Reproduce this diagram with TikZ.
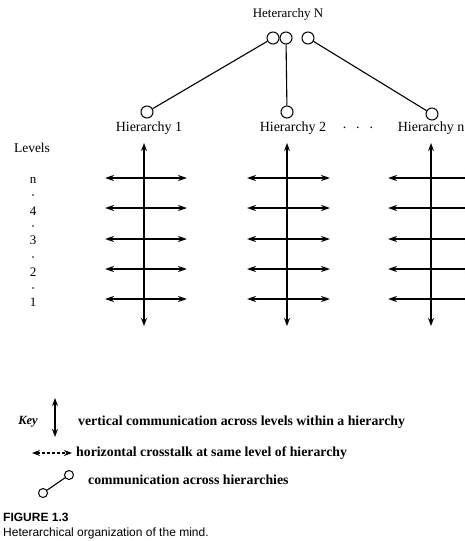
\documentclass[tikz,border=0pt]{standalone}
\usepackage{fontspec}
\setmainfont{Liberation Serif}
\setsansfont{Liberation Sans}
\usetikzlibrary{arrows.meta}
\tikzset{
  hc/.style={circle, draw, line width=1pt, minimum size=12pt, inner sep=0pt},
  kc/.style={circle, draw, line width=1pt, minimum size=9pt, inner sep=0pt},
  link/.style={line width=1.1pt},
  varrow/.style={line width=1.4pt, {Stealth[length=8pt,width=6pt]}-{Stealth[length=8pt,width=6pt]}},
  harrow/.style={line width=1.5pt, {Stealth[length=9pt,width=6pt]}-{Stealth[length=9pt,width=6pt]}},
  karrow/.style={line width=1.3pt, dashed, dash pattern=on 3pt off 2pt, {Stealth[length=8pt,width=6pt]}-{Stealth[length=8pt,width=6pt]}},
  lab/.style={font=\fontsize{13}{15}\selectfont, inner sep=0pt},
  hlab/.style={font=\fontsize{14}{16}\selectfont, inner sep=0pt},
  ldot/.style={circle, fill, inner sep=0pt, minimum size=1.8pt},
  keytxt/.style={font=\fontsize{13.8}{15}\selectfont\bfseries, inner sep=0pt, anchor=west},
}
\begin{document}
\begin{tikzpicture}[x=1pt,y=-1pt]
\useasboundingbox (0,0) rectangle (465,541);

% top
\node[lab] (hetN) at (288,14) {Heterarchy N};
\node[hc] (t1) at (273,38) {};
\node[hc] (t2) at (286,38) {};
\node[hc] (t3) at (308,38) {};
\node[hc] (c1) at (147,112) {};
\node[hc] (c2) at (287,112) {};
\node[hc] (cn) at (432,114) {};
\draw[link] (t1) -- (c1);
\draw[link] (t2) -- (c2);
\draw[link] (t3) -- (cn);

\node[hlab] (h1) at (149,128) {Hierarchy 1};
\node[hlab] (h2) at (293,128) {Hierarchy 2};
\node[hlab] (hd) at (358,128) {.\hspace{10pt}.\hspace{10pt}.};
\node[hlab, anchor=east] (hn) at (464.5,128) {Hierarchy n};

% levels
\node[lab, font=\fontsize{13.5}{15}\selectfont] (lev) at (32,148) {Levels};
\node[lab] (ln) at (33,180) {n};
\node[ldot] (d4) at (33,195) {};
\node[lab] (l4) at (33,211) {4};
\node[ldot] (d3) at (33,226) {};
\node[lab] (l3) at (33,240) {3};
\node[ldot] (d2) at (33,257) {};
\node[lab] (l2) at (33,272) {2};
\node[ldot] (d1) at (33,288) {};
\node[lab] (l1) at (33,302) {1};

% hierarchies
\foreach \h/\cx/\lx/\rx in {1/144/105/187, 2/287/247/330, n/431/388/474}{
  \coordinate (vt\h) at (\cx,143);
  \coordinate (vb\h) at (\cx,326);
  \draw[varrow] (vt\h) -- (vb\h);
  \foreach \l/\y in {n/178, 4/208, 3/239, 2/269, 1/299}{
    \coordinate (hl\h\l) at (\lx,\y);
    \coordinate (hr\h\l) at (\rx,\y);
    \draw[harrow] (hl\h\l) -- (hr\h\l);
  }
}

% key
\node[lab, font=\fontsize{12.5}{14}\selectfont\bfseries\itshape] (key) at (28,422) {Key};
\coordinate (kvt) at (55,398);
\coordinate (kvb) at (55,437);
\draw[varrow] (kvt) -- (kvb);
\node[keytxt] (k1) at (78,422) {vertical communication across levels within a hierarchy};
\coordinate (khl) at (32,453);
\coordinate (khr) at (72,453);
\draw[karrow] (khl) -- (khr);
\node[keytxt] (k2) at (76,453) {horizontal crosstalk at same level of hierarchy};
\node[kc] (kc1) at (43,493) {};
\node[kc] (kc2) at (69,475) {};
\draw[link] (kc1) -- (kc2);
\node[keytxt] (k3) at (88,480) {communication across hierarchies};

% caption
\node[inner sep=0pt, anchor=west, font=\sffamily\bfseries\fontsize{12}{14}\selectfont] (fig) at (3,517) {FIGURE 1.3};
\node[inner sep=0pt, anchor=west, font=\sffamily\fontsize{12}{14}\selectfont] (cap) at (3,533) {Heterarchical organization of the mind.};
\end{tikzpicture}
\end{document}
